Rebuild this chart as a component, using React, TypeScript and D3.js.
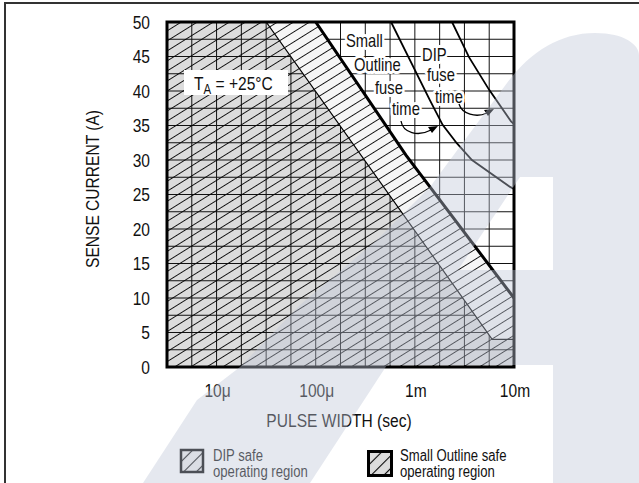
import React from "react";
import * as d3 from "d3";

// ---- data ----
const xDomain: [number, number] = [Math.pow(10, -5.5), 1e-2];
const yDomain: [number, number] = [0, 50];
const xTickValues = [1e-5, 1e-4, 1e-3, 1e-2];
const xTickLabels = ["10μ", "100μ", "1m", "10m"];
const yTickValues = [0, 5, 10, 15, 20, 25, 30, 35, 40, 45, 50];
const xGridExponents = [-5.25, -5, -4.75, -4.5, -4.25, -4, -3.75, -3.5, -3.25, -3, -2.75, -2.5, -2.25];
const yGridValues = [2.5, 5, 7.5, 10, 12.5, 15, 17.5, 20, 22.5, 25, 27.5, 30, 32.5, 35, 37.5, 40, 42.5, 45, 47.5];

// [pulse width (s), current (A)]
const soSafeBoundary: [number, number][] = [
  [Math.pow(10, -4.5), 50],
  [Math.pow(10, -2.22), 4],
  [1e-2, 4],
];
const dipSafeBoundary: [number, number][] = [
  [1e-4, 50],
  [Math.pow(10, -3.09), 30.7],
  [1e-2, 10],
];
const soFuseTime: [number, number][] = [
  [Math.pow(10, -3.24), 50],
  [Math.pow(10, -2.85), 38.7],
  [Math.pow(10, -2.72), 35.1],
  [Math.pow(10, -2.575), 32.4],
  [Math.pow(10, -2.424), 30.0],
  [Math.pow(10, -2.04), 26.1],
  [1e-2, 25.8],
];
const dipFuseTime: [number, number][] = [
  [Math.pow(10, -2.625), 50],
  [Math.pow(10, -2.454), 44.9],
  [Math.pow(10, -2.252), 40.2],
  [Math.pow(10, -2.03), 35.6],
  [1e-2, 35.2],
];

const FONT = "'Liberation Sans', Arial, sans-serif";
const SX = 0.82; // condensed look

type TProps = {
  x: number;
  y: number;
  rotate?: number;
  children?: React.ReactNode;
  [k: string]: any;
};
function T({ x, y, rotate, children, ...rest }: TProps) {
  const tr = `translate(${x},${y})${rotate ? ` rotate(${rotate})` : ""} scale(${SX},1)`;
  return (
    <text transform={tr} {...rest}>
      {children}
    </text>
  );
}

export default function App() {
  const W = 639;
  const H = 483;
  const x = d3.scaleLog().domain(xDomain).range([167, 514]);
  const y = d3.scaleLinear().domain(yDomain).range([367, 22]);
  const line = d3
    .line<[number, number]>()
    .x((d) => x(d[0]))
    .y((d) => y(d[1]));

  const soRegion: [number, number][] = [
    [xDomain[0], 0],
    [xDomain[0], 50],
    ...soSafeBoundary,
    [xDomain[1], 0],
  ];
  const band: [number, number][] = [...dipSafeBoundary, ...[...soSafeBoundary].reverse()];

  const [x0, x1] = x.range();
  const [yb, yt] = y.range();

  const halo = {
    stroke: "#fff",
    strokeWidth: 6,
    paintOrder: "stroke",
    strokeLinejoin: "round",
  };

  return (
    <svg
      width={W}
      height={H}
      style={{ position: "absolute", left: 0, top: 0, background: "#fff" }}
      fontFamily={FONT}
    >
      <defs>
        <pattern id="hatch" patternUnits="userSpaceOnUse" width={20} height={8.5} patternTransform="rotate(-32)">
          <line x1={0} y1={4.25} x2={20} y2={4.25} stroke="#000" strokeWidth={0.9} />
        </pattern>
        <pattern id="hatchLegend" patternUnits="userSpaceOnUse" width={20} height={9} patternTransform="rotate(-45)">
          <line x1={0} y1={4.5} x2={20} y2={4.5} stroke="#000" strokeWidth={1.1} />
        </pattern>
        <clipPath id="plotClip">
          <rect x={x0} y={yt} width={x1 - x0} height={yb - yt} />
        </clipPath>
      </defs>

      {/* outer frame */}
      <path d={`M5,${H} L5,3 L${W},3`} fill="none" stroke="#333" strokeWidth={2} />

      <g clipPath="url(#plotClip)">
        {/* small outline safe region */}
        <path d={line(soRegion) + "Z"} fill="#dcdcdc" />
        {/* grid */}
        {xGridExponents.map((e) => (
          <line key={"gx" + e} x1={x(Math.pow(10, e))} x2={x(Math.pow(10, e))} y1={yt} y2={yb} stroke="#111" strokeWidth={1} />
        ))}
        {yGridValues.map((v) => (
          <line key={"gy" + v} x1={x0} x2={x1} y1={y(v)} y2={y(v)} stroke="#111" strokeWidth={1} />
        ))}
        <path d={line(soRegion) + "Z"} fill="url(#hatch)" />
        {/* DIP safe band */}
        <path d={line(band) + "Z"} fill="#f6f6f6" />
        <path d={line(band) + "Z"} fill="url(#hatch)" />
        {/* boundaries */}
        <path d={line(soSafeBoundary) || ""} fill="none" stroke="#000" strokeWidth={1.2} />
        <path d={line(dipSafeBoundary) || ""} fill="none" stroke="#000" strokeWidth={3} />
        {/* fuse time curves */}
        <path d={line(soFuseTime) || ""} fill="none" stroke="#000" strokeWidth={1.8} />
        <path d={line(dipFuseTime) || ""} fill="none" stroke="#000" strokeWidth={1.8} />
      </g>

      {/* TA box */}
      <rect x={184} y={70} width={104} height={25} fill="#fff" />
      <T x={194} y={90} fontSize={19} fill="#111">
        T
        <tspan fontSize={14} dy={4}>A</tspan>
        <tspan dy={-4}> = +25°C</tspan>
      </T>

      {/* annotations */}
      <g fontSize={18} fill="#111">
        <T x={346} y={47} {...halo}>Small</T>
        <T x={354} y={71} {...halo}>Outline</T>
        <T x={375} y={94} {...halo}>fuse</T>
        <T x={392} y={115} {...halo}>time</T>
        <T x={422} y={61} {...halo}>DIP</T>
        <T x={427} y={81} {...halo}>fuse</T>
        <T x={435} y={103} {...halo}>time</T>
      </g>
      {/* arrows */}
      <path d="M401,121 C403,133 418,137 431,130" fill="none" stroke="#000" strokeWidth={1.3} />
      <path d="M438,126 L428,127 L432,133 Z" fill="#000" />
      <path d="M459,104 C462,114 476,118 487,113" fill="none" stroke="#000" strokeWidth={1.3} />
      <path d="M494,109 L484,110 L488,116 Z" fill="#000" />

      {/* plot frame */}
      <rect x={x0} y={yt} width={x1 - x0} height={yb - yt} fill="none" stroke="#000" strokeWidth={3} />

      {/* y ticks */}
      <g fontSize={19} fill="#111" textAnchor="end">
        {yTickValues.map((v) => (
          <T key={"yt" + v} x={150} y={y(v)} dy="0.36em">
            {v}
          </T>
        ))}
      </g>
      {/* x ticks */}
      <g fontSize={19} fill="#111" textAnchor="middle">
        {xTickValues.map((v, i) => (
          <T key={"xt" + i} x={x(v) + 1} y={397}>
            {xTickLabels[i]}
          </T>
        ))}
      </g>

      {/* axis titles */}
      <T x={339} y={427} fontSize={19} fill="#111" textAnchor="middle">
        PULSE WIDTH (sec)
      </T>
      <T x={99} y={189} rotate={-90} fontSize={19} fill="#111" textAnchor="middle">
        SENSE CURRENT (A)
      </T>

      {/* legend */}
      <rect x={181} y={450} width={22} height={22} fill="#eeeeee" />
      <rect x={181} y={450} width={22} height={22} fill="url(#hatchLegend)" />
      <rect x={181} y={450} width={22} height={22} fill="none" stroke="#000" strokeWidth={2.5} />
      <g fontSize={16} fill="#111">
        <T x={213} y={461}>DIP safe</T>
        <T x={213} y={477}>operating region</T>
      </g>
      <rect x={368.5} y={451.5} width={23} height={24} fill="#dcdcdc" />
      <rect x={368.5} y={451.5} width={23} height={24} fill="url(#hatchLegend)" />
      <rect x={368.5} y={451.5} width={23} height={24} fill="none" stroke="#000" strokeWidth={3} />
      <g fontSize={16} fill="#111">
        <T x={400} y={461}>Small Outline safe</T>
        <T x={400} y={477}>operating region</T>
      </g>

      {/* faint background logo overlay */}
      <path
        d="M143,483 L197,400 L240,367 L300,305 L377,240 L430,187 L507,83 C530,52 560,33 595,33 C625,33 639,45 639,55 L639,483 L553,483 L553,365 L387,365 L310,483 Z M520,177 L553,177 L553,270 L458,270 Z"
        fill="rgb(190,197,214)"
        fillOpacity={0.4}
        fillRule="evenodd"
      />
    </svg>
  );
}
